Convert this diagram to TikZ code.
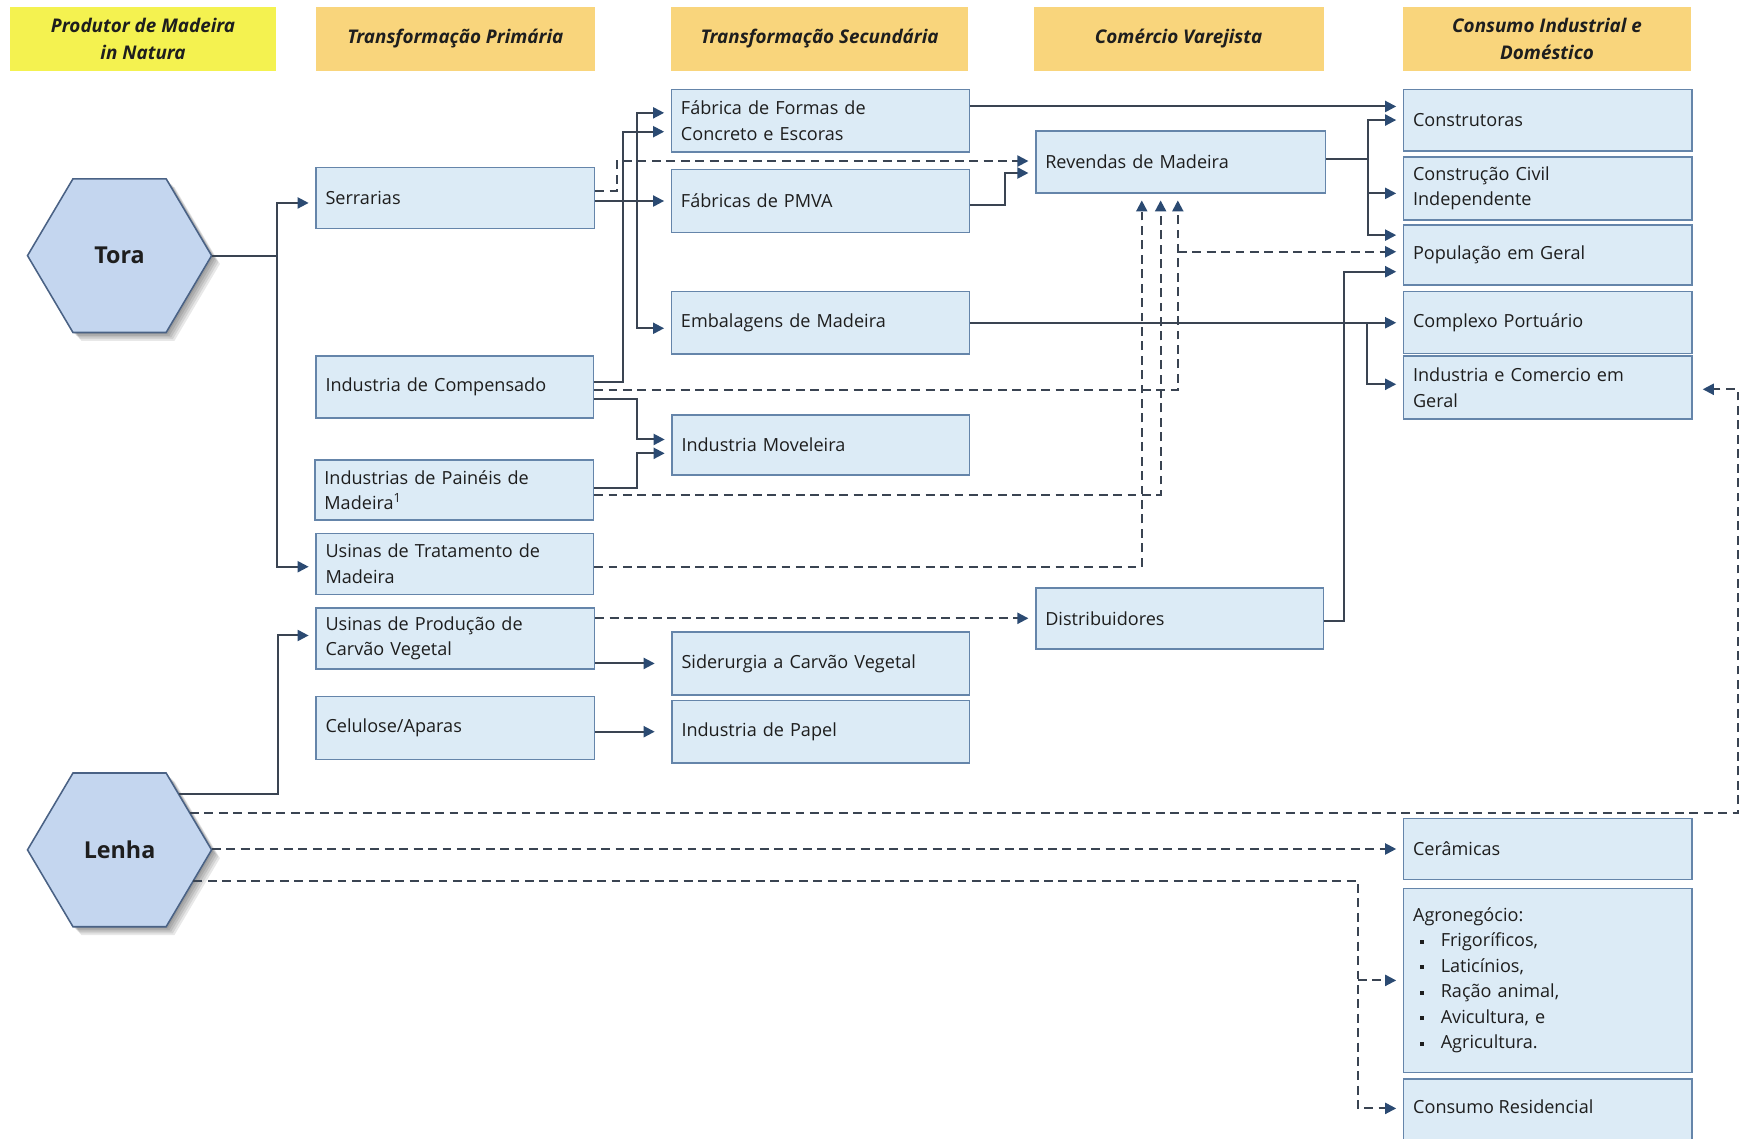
\documentclass[tikz,border=0pt]{standalone}
\usepackage{fontspec}
\setmainfont{Open Sans}
\usetikzlibrary{arrows.meta}
\definecolor{boxfill}{HTML}{DCEBF6}
\definecolor{boxdraw}{HTML}{6585AA}
\definecolor{hdrorange}{HTML}{F9D57C}
\definecolor{hdryellow}{HTML}{F4F250}
\definecolor{hexfill}{HTML}{C4D6EF}
\definecolor{hexdraw}{HTML}{4A6285}
\definecolor{linec}{HTML}{3A4452}
\definecolor{tipc}{HTML}{2B4A72}
\definecolor{txt}{HTML}{1E1E1E}
\newcommand\agbul{\makebox[25pt][l]{\hspace{6pt}\rule[0.35ex]{3.5pt}{3.5pt}}}
\begin{document}
\begin{tikzpicture}[x=1pt,y=-1pt,
  box/.style={draw=boxdraw, fill=boxfill, line width=1.4pt, inner xsep=8.5pt, inner ysep=0pt, align=left, font=\fontsize{16.3}{23}\selectfont, text=txt},
  bx/.style n args={3}{box, minimum width=#1pt, text width=#2pt, minimum height=#3pt},
  hdr/.style={fill=hdrorange, minimum height=58pt, inner sep=0pt, align=center, font=\fontsize{17}{25}\selectfont\bfseries\itshape, text=txt},
  hexn/.style={minimum width=166pt, minimum height=138.6pt, inner sep=0pt, font=\fontsize{21}{24}\selectfont\bfseries, text=txt},
  shl/.style={preaction={fill=black, fill opacity=0.09, transform canvas={xshift=#1pt, yshift=-#1pt}}},
  hex/.style={fill=hexfill, draw=hexdraw, line width=1.4pt, shl=1.5, shl=3, shl=4.5, shl=6, shl=7.5},
  ln/.style={draw=linec, line width=1.8pt},
  arr/.style={ln, shorten >=6pt, -{Triangle[length=10pt,width=10pt,color=tipc]}},
  darr/.style={arr, dash pattern=on 8pt off 5pt},
]
\fill[white] (0,0) rectangle (1568,1027);
\useasboundingbox (0,0) rectangle (1568,1027);

% headers
\node[hdr, fill=hdryellow, minimum width=240pt] (h1) at (129,35) {Produtor de Madeira\\in Natura};
\node[hdr, minimum width=252pt] (h2) at (410.6,35) {Transformação Primária};
\node[hdr, minimum width=268.4pt] (h3) at (739,35) {Transformação Secundária};
\node[hdr, minimum width=261.4pt] (h4) at (1062.7,35) {Comércio Varejista};
\node[hdr, minimum width=259.7pt] (h5) at (1394.9,35) {Consumo Industrial e\\Doméstico};

% hexagons
\path[hex] (24.8,230.5) -- (65.8,161.2) -- (149.8,161.2) -- (190.8,230.5) -- (149.8,299.8) -- (65.8,299.8) -- cycle;
\node[hexn] (tora) at (107.8,230.5) {Tora};
\path[hex] (24.8,766.3) -- (65.8,697) -- (149.8,697) -- (190.8,766.3) -- (149.8,835.6) -- (65.8,835.6) -- cycle;
\node[hexn] (lenha) at (107.8,766.3) {Lenha};

% column 2
\node[bx={251}{234}{55}] (serr) at (410.5,178.5) {Serrarias};
\node[bx={250}{233}{56}] (comp) at (410,349) {Industria de Compensado};
\node[bx={251}{234}{54}] (pain) at (409.5,442) {Industrias de Painéis de\\Madeira\textsuperscript{1}};
\node[bx={250}{233}{55}] (trat) at (410,508.5) {Usinas de Tratamento de\\Madeira};
\node[bx={251}{234}{55}] (carv) at (410.5,575.5) {Usinas de Produção de\\Carvão Vegetal};
\node[bx={251}{234}{57}] (celu) at (410.5,656.5) {Celulose/Aparas};
% column 3
\node[bx={268.5}{251.5}{56.5}] (form) at (739.75,108.75) {Fábrica de Formas de\\Concreto e Escoras};
\node[bx={268.5}{251.5}{56.5}] (pmva) at (739.75,181.25) {Fábricas de PMVA};
\node[bx={268.5}{251.5}{56}] (emba) at (739.75,291) {Embalagens de Madeira};
\node[bx={268}{251}{54.5}] (move) at (740,401.25) {Industria Moveleira};
\node[bx={268}{251}{57}] (side) at (740,598.2) {Siderurgia a Carvão Vegetal};
\node[bx={268}{251}{56}] (pape) at (740,659.75) {Industria de Papel};
% column 4
\node[bx={261}{244}{56}] (reve) at (1064.5,146) {Revendas de Madeira};
\node[bx={259.4}{242.4}{55}] (dist) at (1063.7,557.5) {Distribuidores};
% column 5
\node[bx={260}{243}{55.5}] (cons) at (1395.6,108.25) {Construtoras};
\node[bx={260}{243}{57}] (civi) at (1395.6,169.85) {Construção Civil\\Independente};
\node[bx={260}{243}{54}] (popu) at (1395.6,230) {População em Geral};
\node[bx={260}{243}{55.6}] (cpor) at (1395.6,290.8) {Complexo Portuário};
\node[bx={260}{243}{57}] (indc) at (1395.6,349.5) {Industria e Comercio em\\Geral};
\node[bx={260}{243}{55}] (cera) at (1395.6,765.5) {Cerâmicas};
\node[bx={260}{243}{166}] (agro) at (1395.6,884) {Agronegócio:\\\agbul Frigoríficos,\\\agbul Laticínios,\\\agbul Ração animal,\\\agbul Avicultura, e\\\agbul Agricultura.};
\node[bx={260}{243}{62}] (resi) at (1395.6,1004) {};
\node[anchor=west, inner sep=0pt, font=\fontsize{16.3}{23}\selectfont, text=txt] (resit) at (1274,998) {Consumo Residencial};

% junction coordinates
\coordinate (tj) at (250,230.5);
\coordinate (lsol) at (161,716);
\coordinate (lc1) at (251,716);
\coordinate (lA) at (171.3,733.4);
\coordinate (lAr) at (1567,733.4);
\coordinate (lC) at (174.4,794);
\coordinate (lCr) at (1224.3,794);
\coordinate (sj) at (574,181.25);
\coordinate (cj) at (1062,227);
\coordinate (fy) at (0,96);
\coordinate (ej) at (1232.4,291);
\coordinate (rj) at (1233.4,143);

% Tora
\draw[ln] (tora.east) -- (tj);
\draw[arr] (tj) |- ([yshift=-4.5pt]serr.west);
\draw[arr] (tj) |- ([yshift=-2.5pt]trat.west);
% Lenha
\draw[arr] (lsol) -- (lc1) |- ([yshift=2.5pt]carv.west);
\draw[darr, shorten >=9pt] (lA) -- (lAr) |- ([yshift=-1.5pt]indc.east);
\draw[darr] (lenha.east |- cera.west) -- (cera.west);
\draw[darr] (lC) -- (lCr) |- ([yshift=4.6pt]resi.west);
\draw[darr] (lCr |- agro.west) -- (agro.west);
% Serrarias
\draw[arr] (pmva.west -| serr.east) -- (pmva.west);
\draw[arr] (sj) |- ([yshift=7pt]form.west);
\draw[arr] (sj) |- ([yshift=-5pt]emba.west);
\draw[darr] ([yshift=6.5pt]serr.east) -- ++(19.6,0) |- ([yshift=0.8pt]reve.west);
% Compensado
\draw[arr] ([yshift=4.2pt]comp.east) -- ++(26,0) |- ([yshift=-10pt]form.west);
\draw[arr] ([yshift=-11pt]comp.east) -- ++(39,0) |- ([yshift=5pt]move.west);
\draw[darr] ([yshift=-2.7pt]comp.east) -| ([xshift=-2.5pt]reve.south);
\draw[darr] (cj) -- ([yshift=3pt]popu.west);
% Paineis
\draw[arr] ([yshift=2pt]pain.east) -- ++(39,0) |- ([yshift=-7.5pt]move.west);
\draw[darr] ([yshift=-4pt]pain.east) -| ([xshift=-18pt]reve.south);
% Tratamento
\draw[darr] ([yshift=-2.5pt]trat.east) -| ([xshift=-35pt]reve.south);
% Carvao, Celulose
\draw[darr] (dist.west -| carv.east) -- (dist.west);
\draw[arr, shorten >=15pt] (side.west -| carv.east) -- (side.west);
\draw[arr, shorten >=15pt] (pape.west -| celu.east) -- (pape.west);
% PMVA
\draw[arr] ([yshift=-3.4pt]pmva.east) -- ++(31.5,0) |- ([yshift=-10pt]reve.west);
% Formas
\draw[arr] (form.east |- fy) -- (cons.west |- fy);
% Embalagens
\draw[arr] (emba.east) -- (cpor.west |- emba.east);
\draw[arr] (ej) |- ([yshift=3pt]indc.west);
% Revendas
\draw[ln] ([yshift=3pt]reve.east) -- (rj);
\draw[arr] (rj) |- (cons.west);
\draw[arr] (rj) |- ([yshift=-4.5pt]civi.west);
\draw[arr] (rj) |- ([yshift=18pt]popu.west);
% Distribuidores
\draw[arr] ([yshift=-2pt]dist.east) -- ++(17.6,0) |- ([yshift=-15pt]popu.west);
\end{tikzpicture}
\end{document}
